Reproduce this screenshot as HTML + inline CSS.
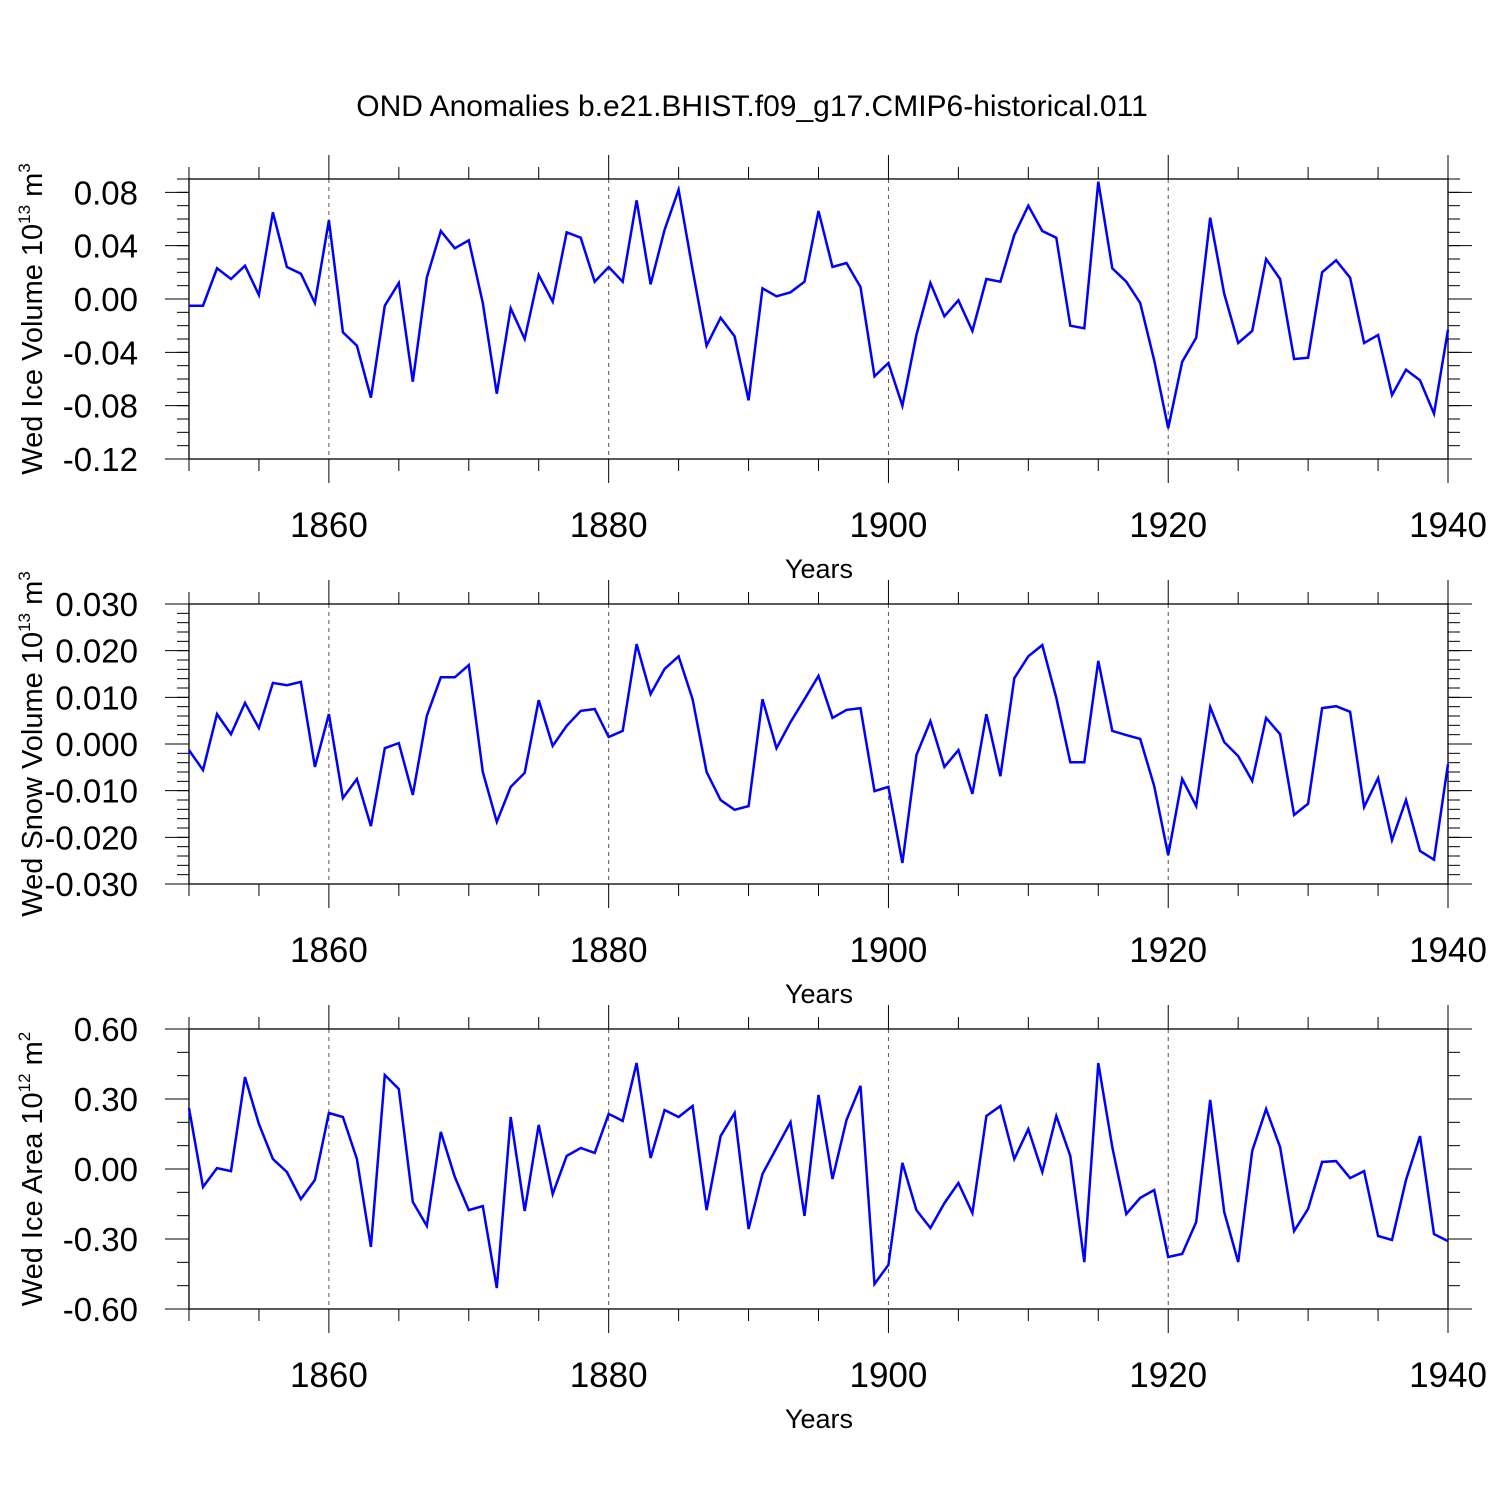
<!DOCTYPE html>
<html><head><meta charset="utf-8"><style>
html,body{margin:0;padding:0;background:#fff;}
svg{display:block;font-family:"Liberation Sans",sans-serif;}
</style></head><body>
<svg id="chart" width="1500" height="1500" viewBox="0 0 1500 1500" xmlns="http://www.w3.org/2000/svg">
<text x="752" y="116" font-size="30" text-anchor="middle">OND Anomalies b.e21.BHIST.f09_g17.CMIP6-historical.011</text>
</svg>
<script>
const years = [];
for (let y = 1850; y <= 1940; y++) years.push(y);
const iceVolume = [-0.005,-0.005,0.023,0.015,0.025,0.003,0.065,0.024,0.019,-0.003,
0.059,-0.025,-0.035,-0.074,-0.005,0.012,-0.062,0.016,0.051,0.038,
0.044,-0.003,-0.071,-0.007,-0.030,0.018,-0.002,0.050,0.046,0.013,
0.024,0.013,0.074,0.011,0.052,0.082,0.022,-0.035,-0.014,-0.028,
-0.076,0.008,0.002,0.005,0.013,0.066,0.024,0.027,0.009,-0.058,
-0.048,-0.080,-0.027,0.012,-0.013,-0.001,-0.024,0.015,0.013,0.048,
0.070,0.051,0.046,-0.020,-0.022,0.088,0.023,0.013,-0.003,-0.046,
-0.097,-0.047,-0.029,0.061,0.004,-0.033,-0.024,0.030,0.015,-0.045,
-0.044,0.020,0.029,0.016,-0.033,-0.027,-0.072,-0.053,-0.061,-0.086,-0.023];
const snowVolume = [-0.0013,-0.0056,0.0064,0.0021,0.0088,0.0034,0.0131,0.0126,0.0133,-0.0049,
0.0064,-0.0116,-0.0075,-0.0176,-0.0009,0.0002,-0.0109,0.0060,0.0143,0.0143,
0.0169,-0.0060,-0.0167,-0.0092,-0.0062,0.0094,-0.0004,0.0039,0.0071,0.0075,
0.0015,0.0028,0.0214,0.0107,0.0161,0.0188,0.0096,-0.0060,-0.0120,-0.0141,
-0.0133,0.0096,-0.0009,0.0047,0.0096,0.0146,0.0056,0.0073,0.0077,-0.0101,
-0.0092,-0.0255,-0.0024,0.0049,-0.0049,-0.0013,-0.0107,0.0064,-0.0069,0.0141,
0.0188,0.0212,0.0099,-0.0039,-0.0039,0.0178,0.0028,0.0019,0.0011,-0.0090,
-0.0238,-0.0075,-0.0133,0.0079,0.0004,-0.0026,-0.0079,0.0056,0.0021,-0.0152,
-0.0128,0.0077,0.0081,0.0069,-0.0135,-0.0073,-0.0206,-0.0120,-0.0229,-0.0248,-0.0043];
const iceArea = [0.261,-0.077,0.004,-0.009,0.394,0.193,0.043,-0.013,-0.129,-0.047,
0.240,0.223,0.043,-0.334,0.403,0.343,-0.141,-0.244,0.159,-0.034,
-0.176,-0.159,-0.510,0.223,-0.180,0.189,-0.107,0.056,0.090,0.069,
0.236,0.206,0.454,0.047,0.253,0.223,0.270,-0.176,0.141,0.240,
-0.257,-0.021,0.090,0.201,-0.201,0.317,-0.043,0.210,0.356,-0.493,
-0.411,0.026,-0.176,-0.253,-0.146,-0.060,-0.189,0.227,0.270,0.043,
0.171,-0.013,0.227,0.056,-0.399,0.454,0.094,-0.193,-0.124,-0.090,
-0.377,-0.364,-0.227,0.296,-0.184,-0.399,0.077,0.257,0.094,-0.266,
-0.171,0.030,0.034,-0.039,-0.009,-0.287,-0.304,-0.047,0.141,-0.279,-0.309];
const xTickLabels = ["1860","1880","1900","1920","1940"];
const p1Ticks = ["0.08","0.04","0.00","-0.04","-0.08","-0.12"];
const p2Ticks = ["0.030","0.020","0.010","0.000","-0.010","-0.020","-0.030"];
const p3Ticks = ["0.60","0.30","0.00","-0.30","-0.60"];

const NS = "http://www.w3.org/2000/svg";
const svg = document.getElementById("chart");
const X0 = 189, X1 = 1448, YMIN = 1850, YMAX = 1940;
const xs = v => X0 + (v - YMIN) / (YMAX - YMIN) * (X1 - X0);
function mk(tag, attrs, parent) {
  const e = document.createElementNS(NS, tag);
  for (const k in attrs) e.setAttribute(k, attrs[k]);
  (parent || svg).appendChild(e);
  return e;
}
const panels = [
  {top:179, bot:459, vmin:-0.12, vmax:0.09, ticks:p1Ticks, minor:0.01, data:iceVolume, name:"ice-volume", title:"Wed Ice Volume 10", sup:"13", unit:" m", usup:"3"},
  {top:604, bot:884, vmin:-0.03, vmax:0.03, ticks:p2Ticks, minor:0.002, data:snowVolume, name:"snow-volume", title:"Wed Snow Volume 10", sup:"13", unit:" m", usup:"3"},
  {top:1029, bot:1309, vmin:-0.6, vmax:0.6, ticks:p3Ticks, minor:0.1, data:iceArea, name:"ice-area", title:"Wed Ice Area 10", sup:"12", unit:" m", usup:"2"}
];
panels.forEach(p => {
  const g = mk("g", {});
  
  
  const ys = v => p.bot - (v - p.vmin) / (p.vmax - p.vmin) * (p.bot - p.top);
  for (let y = 1860; y < 1940; y += 20) {
    const l = mk("line", {x1:xs(y), x2:xs(y), y1:p.top, y2:p.bot, stroke:"#555", "stroke-width":1, "stroke-dasharray":"4,4"}, g);
    
    
  }
  const fr = mk("rect", {x:X0, y:p.top, width:X1-X0, height:p.bot-p.top, fill:"none", stroke:"#000", "stroke-width":1.3}, g);
  
  
  for (let y = 1850; y <= 1940; y += 5) {
    const major = (y % 20 === 0);
    const len = major ? 24 : 12;
    mk("line", {x1:xs(y), x2:xs(y), y1:p.top-len, y2:p.top, stroke:"#000", "stroke-width":1}, g);
    mk("line", {x1:xs(y), x2:xs(y), y1:p.bot, y2:p.bot+len, stroke:"#000", "stroke-width":1}, g);
  }
  xTickLabels.forEach(t => {
    const tx = mk("text", {x:xs(+t), y:p.bot+78, "font-size":35, "text-anchor":"middle"}, g);
    tx.textContent = t;
    
    
  });
  const xt = mk("text", {x:819, y:p.bot+119, "font-size":27, "text-anchor":"middle"}, g);
  xt.textContent = "Years";
  
  
  const n = Math.round((p.vmax - p.vmin) / p.minor);
  for (let i = 0; i <= n; i++) {
    const v = p.vmin + i * p.minor;
    const y = ys(v);
    if (y < p.top - 0.5) continue;
    mk("line", {x1:X0-12, x2:X0, y1:y, y2:y, stroke:"#000", "stroke-width":1}, g);
    mk("line", {x1:X1, x2:X1+12, y1:y, y2:y, stroke:"#000", "stroke-width":1}, g);
  }
  p.ticks.forEach(t => {
    const y = ys(parseFloat(t));
    mk("line", {x1:X0-24, x2:X0, y1:y, y2:y, stroke:"#000", "stroke-width":1}, g);
    mk("line", {x1:X1, x2:X1+24, y1:y, y2:y, stroke:"#000", "stroke-width":1}, g);
    const tx = mk("text", {x:138, y:y+12, "font-size":33, "text-anchor":"end"}, g);
    tx.textContent = t;
    
    
  });
  const cy = (p.top + p.bot) / 2;
  const yt = mk("text", {x:0, y:0, "font-size":29, "text-anchor":"middle", transform:`translate(42,${cy}) rotate(-90)`}, g);
  
  
  const a = document.createElementNS(NS, "tspan"); a.textContent = p.title; yt.appendChild(a);
  const b = document.createElementNS(NS, "tspan"); b.textContent = p.sup; b.setAttribute("font-size","17"); b.setAttribute("dy","-12"); yt.appendChild(b);
  const c = document.createElementNS(NS, "tspan"); c.textContent = p.unit; c.setAttribute("dy","12"); yt.appendChild(c);
  const d = document.createElementNS(NS, "tspan"); d.textContent = p.usup; d.setAttribute("font-size","17"); d.setAttribute("dy","-12"); yt.appendChild(d);
  const pts = p.data.map((v, i) => xs(years[i]).toFixed(1) + "," + ys(v).toFixed(1)).join(" ");
  const line = mk("polyline", {points:pts, fill:"none", stroke:"#0000ff", "stroke-width":2.5, "stroke-linejoin":"miter"}, g);
  
  
});
</script>
</body></html>
